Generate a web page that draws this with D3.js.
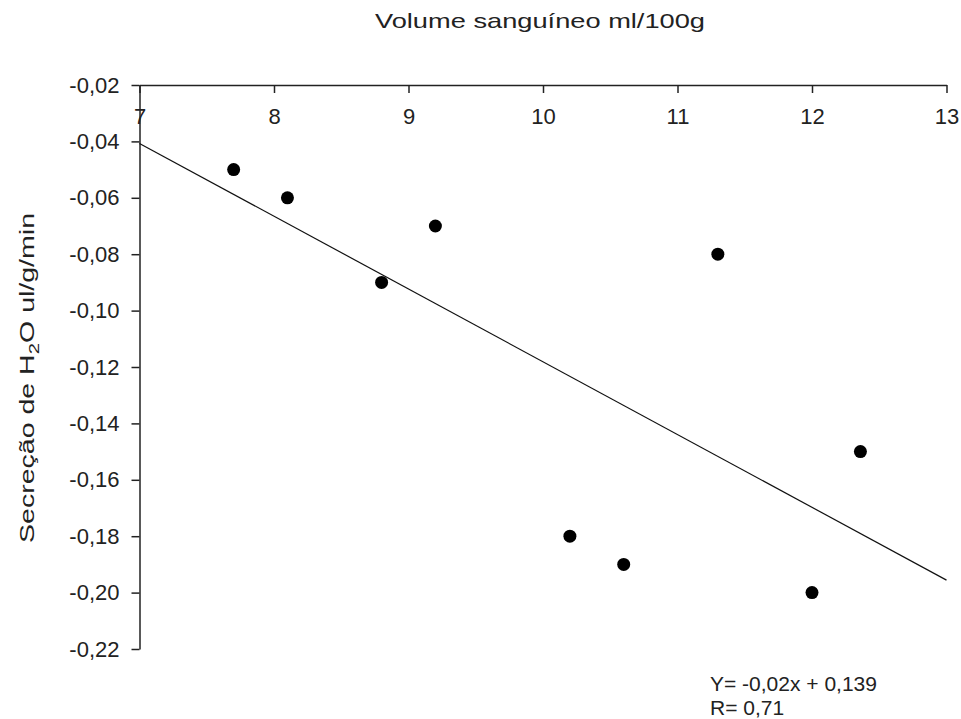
<!DOCTYPE html>
<html>
<head>
<meta charset="utf-8">
<script src="https://cdn.jsdelivr.net/npm/d3@7"></script>
<style>
  body { margin: 0; background: #fff; }
  text { font-family: "Liberation Sans", Arial, sans-serif; fill: #222; }
</style>
</head>
<body>
<div id="chart"></div>
<script>
// blood volume (ml/100g) vs H2O secretion (ul/g/min)
var volume = [7.7, 8.1, 8.8, 9.2, 10.2, 10.6, 11.3, 12.0, 12.36];
var secretion = [-0.05, -0.06, -0.09, -0.07, -0.18, -0.19, -0.08, -0.20, -0.15];
var xTicks = [7, 8, 9, 10, 11, 12, 13];
var yTicks = [-0.02, -0.04, -0.06, -0.08, -0.10, -0.12, -0.14, -0.16, -0.18, -0.20, -0.22];
var equationLines = ["Y= -0,02x + 0,139", "R= 0,71"];

var width = 961, height = 719;
var plotL = 139.5, plotR = 946.5, plotT = 85, plotB = 649;

var svg = d3.select("#chart")
  .append("svg")
  .attr("width", width)
  .attr("height", height);

var x = d3.scaleLinear().domain([7, 13]).range([plotL, plotR]);
var y = d3.scaleLinear().domain([-0.02, -0.22]).range([plotT, plotB]);

var loc = d3.formatLocale({decimal: ",", thousands: ".", grouping: [3], currency: ["", ""], minus: "-"});
var fmt = loc.format(".2f");

// x axis sits on top, ticks point into the plot
var gx = svg.append("g")
  .attr("transform", "translate(0," + plotT + ")")
  .call(d3.axisBottom(x).tickValues(xTicks).tickSize(8).tickPadding(15).tickSizeOuter(0).tickFormat(d3.format("d")));

var gy = svg.append("g")
  .attr("transform", "translate(" + plotL + ",0)")
  .call(d3.axisLeft(y).tickValues(yTicks).tickSize(8).tickPadding(12).tickSizeOuter(0).tickFormat(fmt));

[gx, gy].forEach(function(g) {
  g.select(".domain").attr("stroke", "#222").attr("stroke-width", 1.5);
  g.selectAll(".tick line").attr("stroke", "#222").attr("stroke-width", 1.5);
  g.selectAll(".tick text")
    .attr("fill", "#222")
    .style("font-size", "22px")
    .style("font-family", "'Liberation Sans', Arial, sans-serif");
});

// least squares fit
var mx = d3.mean(volume), my = d3.mean(secretion);
var sxy = d3.sum(volume, function(v, i) { return (v - mx) * (secretion[i] - my); });
var sxx = d3.sum(volume, function(v) { return (v - mx) * (v - mx); });
var slope = sxy / sxx, icpt = my - slope * mx;

svg.append("line")
  .attr("x1", x(7)).attr("y1", y(icpt + slope * 7))
  .attr("x2", x(13)).attr("y2", y(icpt + slope * 13))
  .attr("stroke", "#111")
  .attr("stroke-width", 1.2);

svg.selectAll("circle.pt")
  .data(volume)
  .enter()
  .append("circle")
    .attr("class", "pt")
    .attr("cx", function(d) { return x(d); })
    .attr("cy", function(d, i) { return y(secretion[i]); })
    .attr("r", 6.5)
    .style("fill", "#000");

// titles
svg.append("text")
  .attr("x", 375).attr("y", 28)
  .attr("textLength", 330)
  .attr("lengthAdjust", "spacingAndGlyphs")
  .style("font-size", "21px")
  .text("Volume sanguíneo ml/100g");

var yl = svg.append("text")
  .attr("transform", "translate(34,543) rotate(-90)")
  .attr("textLength", 330)
  .attr("lengthAdjust", "spacingAndGlyphs")
  .style("font-size", "21px");
yl.append("tspan").text("Secreção de H");
yl.append("tspan").attr("dy", 5).style("font-size", "15px").text("2");
yl.append("tspan").attr("dy", -5).text("O ul/g/min");

svg.selectAll("text.eq")
  .data(equationLines)
  .enter()
  .append("text")
    .attr("class", "eq")
    .attr("x", 710)
    .attr("y", function(d, i) { return 691 + i * 24; })
    .style("font-size", "21px")
    .text(function(d) { return d; });
</script>
</body>
</html>
